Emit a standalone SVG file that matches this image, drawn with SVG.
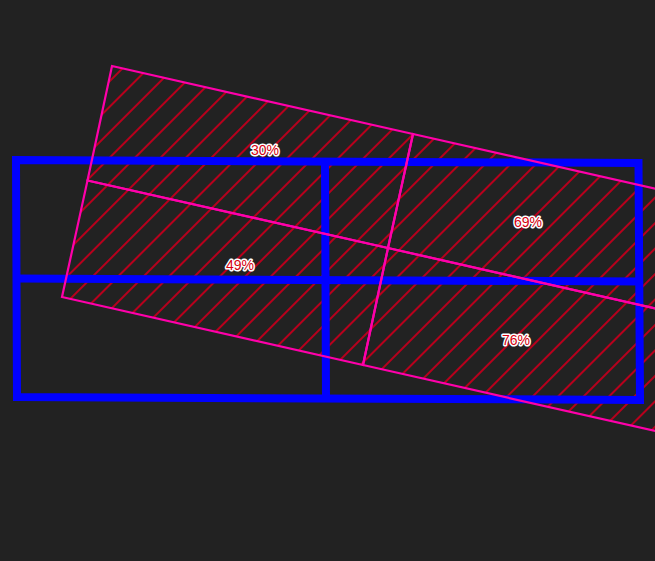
<svg xmlns="http://www.w3.org/2000/svg" width="655" height="561" viewBox="0 0 655 561">
  <style>
    .blue { fill: none; stroke: #0000ff; stroke-width: 8; stroke-linejoin: miter; }
    .cell { fill: none; stroke: #ff00aa; stroke-width: 2.2; stroke-linejoin: miter; }
    .hatch { fill: url(#hatch); }
    .label { font-family: "Liberation Sans", Arial, sans-serif; font-size: 14px; fill: #d40010; stroke: #ffffff; stroke-width: 3; paint-order: stroke; stroke-linejoin: round; text-anchor: middle; }
  </style>
  <defs>
    <pattern id="hatch" patternUnits="userSpaceOnUse" width="18" height="18" patternTransform="rotate(45)">
      <line x1="9" y1="0" x2="9" y2="18" stroke="#b8001c" stroke-width="2"/>
    </pattern>
  </defs>
  <rect x="0" y="0" width="655" height="561" fill="#222222"/>

  <!-- hatch fills of the rotated cells -->
  <g id="hatching">
    <polygon class="hatch" points="112,66 413,134 388,248 87.5,180.5"/>
    <polygon class="hatch" points="413,134 714,202 689,316 388,248"/>
    <polygon class="hatch" points="87.5,180.5 388,248 363,365 62,297"/>
    <polygon class="hatch" points="388,248 689,316 664,433 363,365"/>
  </g>

  <!-- blue grid -->
  <g id="blue-grid">
    <polygon class="blue" points="16,160 638.5,163 640,400 17,397"/>
    <line class="blue" x1="325" y1="161.5" x2="326" y2="398.5"/>
    <line class="blue" x1="16.5" y1="278.5" x2="639.2" y2="281.5"/>
  </g>

  <!-- rotated cells -->
  <g id="cell-30">
    <polygon class="cell" points="112,66 413,134 388,248 87.5,180.5"/>
  </g>
  <g id="cell-69">
    <polygon class="cell" points="413,134 714,202 689,316 388,248"/>
  </g>
  <g id="cell-49">
    <polygon class="cell" points="87.5,180.5 388,248 363,365 62,297"/>
  </g>
  <g id="cell-76">
    <polygon class="cell" points="388,248 689,316 664,433 363,365"/>
  </g>

  <g id="labels">
    <text class="label" x="265" y="154.5">30%</text>
    <text class="label" x="240" y="270">49%</text>
    <text class="label" x="528" y="227">69%</text>
    <text class="label" x="516" y="345">76%</text>
  </g>

  <g id="connectors"/>
</svg>
